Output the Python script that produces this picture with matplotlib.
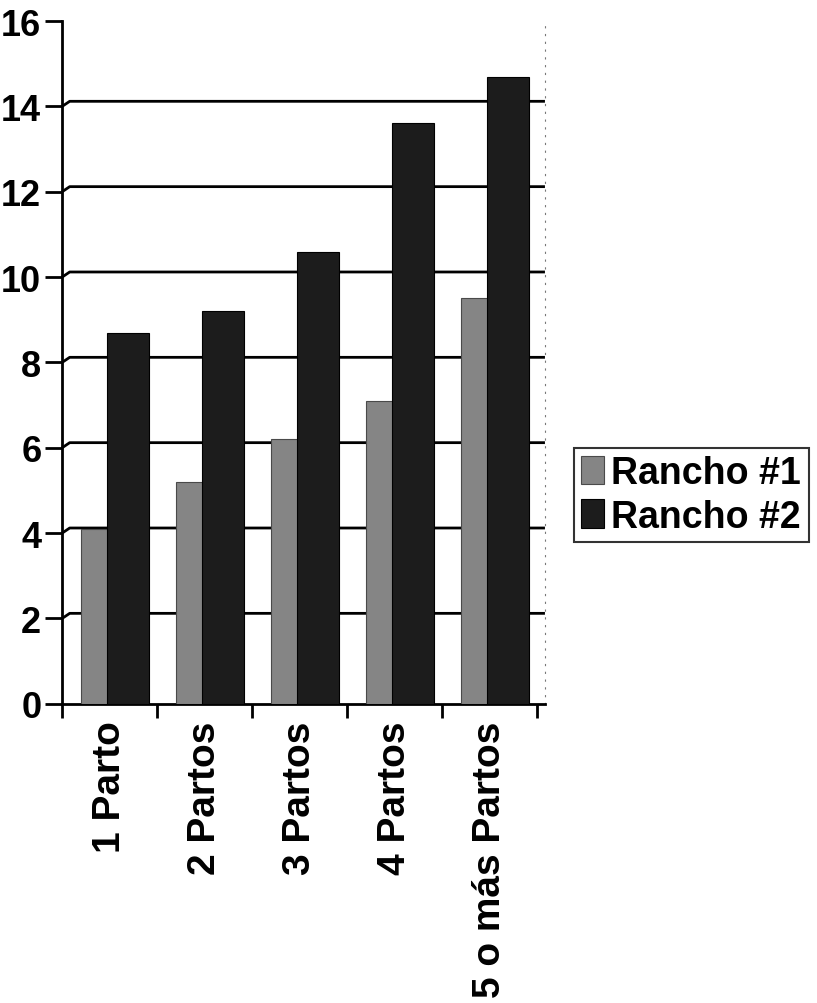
import matplotlib
matplotlib.use("Agg")
import matplotlib.pyplot as plt
import numpy as np

categories = ["1 Parto", "2 Partos", "3 Partos", "4 Partos", "5 o más Partos"]
rancho1 = [4.1, 5.2, 6.2, 7.1, 9.5]
rancho2 = [8.7, 9.2, 10.6, 13.6, 14.7]
series_names = ["Rancho #1", "Rancho #2"]
yticks = [0, 2, 4, 6, 8, 10, 12, 14, 16]

plt.rcParams['font.family'] = ['Liberation Sans', 'DejaVu Sans']
plt.rcParams['font.weight'] = 'bold'

fig = plt.figure(figsize=(8.17, 10.04), dpi=100)
ax = fig.add_axes([0.076, 0.298, 0.591, 0.680])

XMAX = 4.58
x = np.arange(len(categories))
b1 = ax.bar(x - 0.15, rancho1, width=0.30, color='#858585', edgecolor='#4a4a4a',
            linewidth=0.8, zorder=3, label=series_names[0])
b2 = ax.bar(x + 0.19, rancho2, width=0.44, color='#1c1c1c', edgecolor='#000000',
            linewidth=0.8, zorder=4, label=series_names[1])

# back-wall gridlines with a small 3-D style kink at the left wall
for yv in yticks[1:-1]:
    ax.plot([-0.5, -0.42, XMAX], [yv, yv + 0.12, yv + 0.12], color='black',
            linewidth=2.0, zorder=1, clip_on=False, solid_capstyle='butt')

ax.set_xlim(-0.5, XMAX)
ax.set_ylim(0, 16)
ax.set_yticks(yticks)
ax.set_yticklabels([str(v) for v in yticks], fontsize=26, fontweight='bold')
ax.tick_params(axis='y', direction='out', length=12, width=2, pad=3)

ax.set_xticks(x)
ax.set_xticklabels(categories, rotation=90, fontsize=28, fontweight='bold',
                   va='top', ha='center')
ax.tick_params(axis='x', length=0, pad=12)
ax.set_xticks(np.arange(-0.5, 5.0, 1.0), minor=True)
ax.tick_params(axis='x', which='minor', direction='out', length=10, width=2)

ax.spines['top'].set_visible(False)
ax.spines['right'].set_linestyle((0, (1, 6)))
ax.spines['right'].set_color('#777777')
ax.spines['left'].set_linewidth(2)
ax.spines['bottom'].set_linewidth(2)

leg = ax.legend(loc='center left', bbox_to_anchor=(1.06, 0.306), fontsize=27,
                frameon=True, fancybox=False, edgecolor='black',
                handlelength=0.6, handleheight=0.8, handletextpad=0.2,
                borderpad=0.2, labelspacing=0.2, borderaxespad=0)
leg.get_frame().set_linewidth(1.5)
for t in leg.get_texts():
    t.set_fontweight('bold')

fig.savefig("out.png", dpi=100, facecolor='white')
